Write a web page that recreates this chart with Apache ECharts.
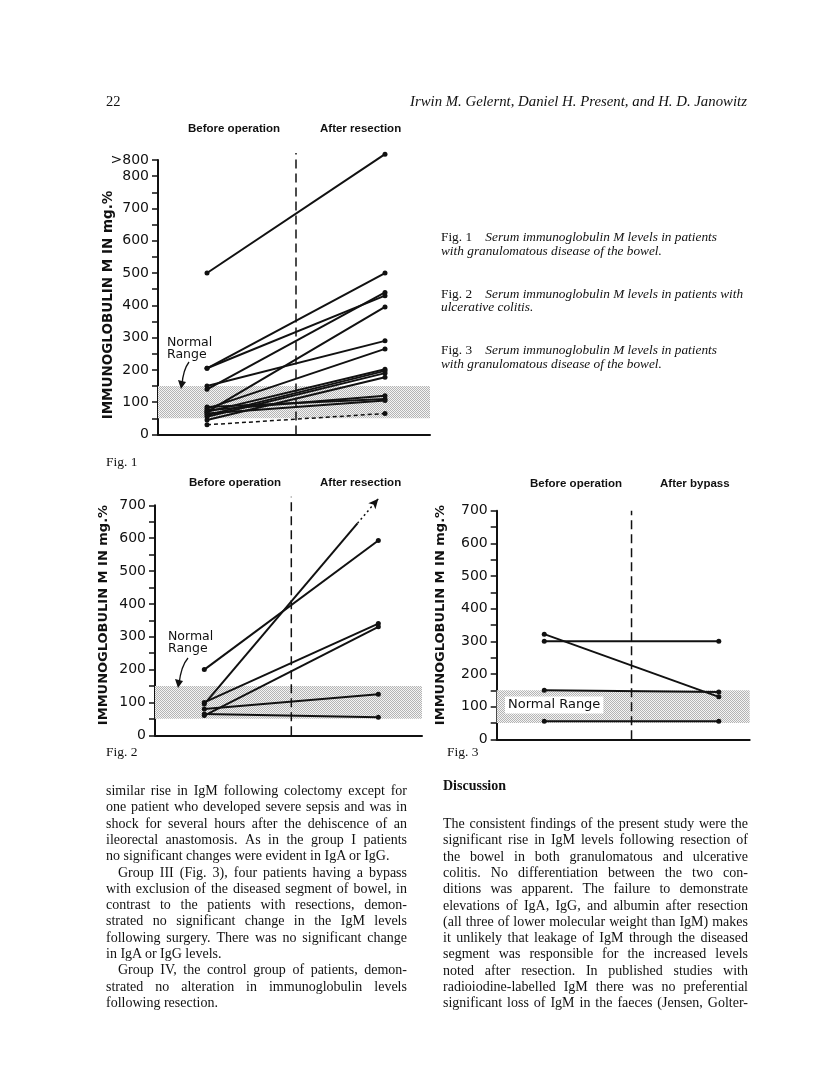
<!DOCTYPE html>
<html>
<head>
<meta charset="utf-8">
<script src="https://cdn.jsdelivr.net/npm/echarts@6/dist/echarts.min.js"></script>
<style>
  html, body { margin:0; padding:0; background:#fff; }
  #page { position:relative; width:816px; height:1075px; overflow:hidden; }
  #c { position:absolute; left:0; top:0; width:816px; height:1075px; }
  .t { position:absolute; font-family:"Liberation Serif", "Times New Roman", serif; color:#111; white-space:nowrap; }
  .ln { position:absolute; font-family:"Liberation Serif", serif; font-size:14px; line-height:16px; height:16px; color:#111; white-space:nowrap; }
  .jl { display:flex; justify-content:space-between; }
  .cap i { font-style:italic; }
</style>
</head>
<body>
<div id="page">
  <div id="c"></div>
  <div id="txt"></div>
</div>
<script>
// ---------------- DATA ----------------
// x positions: 1 = "Before operation", 2 = "After resection/bypass"
const phases = [1, 2];

// Fig. 1 – granulomatous disease, before vs after resection (mg %)
const fig1Before = [500, 205, 205, 150, 140, 70, 80, 70, 60, 55, 45, 75, 85, 65];
const fig1After  = [868, 500, 430, 290, 440, 395, 265, 202, 197, 190, 177, 120, 110, 105];
const fig1DottedBefore = [30];
const fig1DottedAfter  = [65];
const fig1TickValues = [0, 100, 200, 300, 400, 500, 600, 700, 800, 850];
const fig1TickLabels = ['0', '100', '200', '300', '400', '500', '600', '700', '800', '>800'];

// Fig. 2 – ulcerative colitis
const fig2Before = [200, 100, 60, 80, 65];
const fig2After  = [593, 340, 330, 125, 55];
const fig2ArrowBefore = [95];
const fig2ArrowAfter  = [720];
const fig2TickValues = [0, 100, 200, 300, 400, 500, 600, 700];

// Fig. 3 – granulomatous disease, bypass
const fig3Before = [300, 322, 150, 55];
const fig3After  = [300, 130, 145, 55];
const fig3TickValues = [0, 100, 200, 300, 400, 500, 600, 700];

// Normal range (mg %)
const normalRange = [50, 150];

// ---------------- STYLE ----------------
const INK = '#111';
const AXF = '"DejaVu Sans", sans-serif';

function stipple() {
  const cv = document.createElement('canvas');
  cv.width = 2; cv.height = 2;
  const g = cv.getContext('2d');
  g.fillStyle = '#f4f4f4'; g.fillRect(0, 0, 2, 2);
  g.fillStyle = '#b4b4b4'; g.fillRect(0, 0, 1, 1); g.fillRect(1, 1, 1, 1);
  return { image: cv, repeat: 'repeat' };
}
const band = stipple();

const grids = [
  { left: 158, top: 160, width: 272, height: 274.5 },
  { left: 155, top: 505.3, width: 267, height: 230 },
  { left: 496.7, top: 510.7, width: 253, height: 228.6 }
];
const xRanges = [[0.7247, 2.2528], [0.7167, 2.251], [0.7275, 2.177]];
const yMax = [850, 700, 700];
const dashTop = [872, 726, 700];
const tickSets = [fig1TickValues, fig2TickValues, fig3TickValues];

function labelFor(gi, v) {
  const idx = tickSets[gi].indexOf(v);
  if (idx < 0) return '';
  return gi === 0 ? fig1TickLabels[idx] : String(v);
}

const xAxis = grids.map((g, i) => ({
  gridIndex: i, type: 'value', min: xRanges[i][0], max: xRanges[i][1],
  axisLine: { show: true, onZero: false, lineStyle: { color: INK, width: 2 } },
  axisTick: { show: false }, axisLabel: { show: false }, splitLine: { show: false }
}));
const yAxis = grids.map((g, i) => ({
  gridIndex: i, type: 'value', min: 0, max: yMax[i], interval: 50,
  axisLine: { show: true, onZero: false, lineStyle: { color: INK, width: 2 } },
  axisTick: { show: true, length: 6, lineStyle: { color: INK, width: 1.5 } },
  axisLabel: { color: INK, fontFamily: AXF, fontSize: 14, margin: 9, formatter: v => labelFor(i, v) },
  splitLine: { show: false }
}));

const series = [];
function pair(gi, b, a, extra) {
  series.push(Object.assign({
    type: 'line', xAxisIndex: gi, yAxisIndex: gi,
    data: [[phases[0], b], [phases[1], a]],
    symbol: 'circle', symbolSize: 5, showSymbol: true,
    lineStyle: { color: INK, width: 2 }, itemStyle: { color: INK },
    clip: false, silent: true, animation: false, z: 4
  }, extra || {}));
}
// bands + dashed separators
grids.forEach((g, gi) => {
  series.push({
    type: 'line', xAxisIndex: gi, yAxisIndex: gi, data: [], silent: true, animation: false, z: 1,
    markArea: { silent: true, itemStyle: { color: band }, data: [[{ yAxis: normalRange[0] }, { yAxis: normalRange[1] }]] }
  });
  series.push({
    type: 'line', xAxisIndex: gi, yAxisIndex: gi,
    data: [[(phases[0] + phases[1]) / 2, 0], [(phases[0] + phases[1]) / 2, dashTop[gi]]],
    symbol: 'none', lineStyle: { color: INK, width: 1.5, type: [9, 5] },
    clip: false, silent: true, animation: false, z: 3
  });
});
fig1Before.forEach((b, i) => pair(0, b, fig1After[i]));
fig1DottedBefore.forEach((b, i) => pair(0, b, fig1DottedAfter[i], { lineStyle: { color: INK, width: 1.5, type: [4, 3] } }));
fig2Before.forEach((b, i) => pair(1, b, fig2After[i]));
fig3Before.forEach((b, i) => pair(2, b, fig3After[i]));

// Fig 2 arrow line (solid, then dotted with arrowhead)
const arrowParts = [];
fig2ArrowBefore.forEach((b, i) => {
  const a = fig2ArrowAfter[i];
  const f = 0.88;
  const kx = phases[0] + f * (phases[1] - phases[0]);
  const ky = b + f * (a - b);
  series.push({
    type: 'line', xAxisIndex: 1, yAxisIndex: 1,
    data: [{ value: [phases[0], b] }, { value: [kx, ky], symbol: 'none' }],
    symbol: 'circle', symbolSize: 5,
    lineStyle: { color: INK, width: 2 }, itemStyle: { color: INK },
    clip: false, silent: true, animation: false, z: 4
  });
  arrowParts.push({ idx: series.length, from: [kx, ky], to: [phases[1], a] });
  series.push({
    type: 'line', xAxisIndex: 1, yAxisIndex: 1,
    data: [{ value: [kx, ky], symbol: 'none' }, { value: [phases[1], a], symbol: 'arrow', symbolSize: [7, 10], symbolRotate: -40 }],
    lineStyle: { color: INK, width: 1.5, type: [2, 3] }, itemStyle: { color: INK },
    clip: false, silent: true, animation: false, z: 4
  });
});

// ---------------- ANNOTATIONS ----------------
const HF = 'bold 11.5px "Liberation Sans", Arial, sans-serif';
function txt(x, y, text, font, extra) {
  return Object.assign({ type: 'text', x, y, silent: true, z: 10,
    style: Object.assign({ text, font, fill: INK, verticalAlign: 'middle' }, (extra && extra.style) || {}) },
    extra ? { rotation: extra.rotation || 0 } : {});
}
const graphic = [
  txt(188, 129, 'Before operation', HF), txt(320, 129, 'After resection', HF),
  txt(189, 483, 'Before operation', HF), txt(320, 483, 'After resection', HF),
  txt(530, 484, 'Before operation', HF), txt(660, 484, 'After bypass', HF),
  txt(108, 305, 'IMMUNOGLOBULIN M IN mg.%', 'bold 13.5px ' + AXF, { rotation: Math.PI / 2, style: { align: 'center' } }),
  txt(104, 615, 'IMMUNOGLOBULIN M IN mg.%', 'bold 13px ' + AXF, { rotation: Math.PI / 2, style: { align: 'center' } }),
  txt(440.5, 615, 'IMMUNOGLOBULIN M IN mg.%', 'bold 13px ' + AXF, { rotation: Math.PI / 2, style: { align: 'center' } }),
  txt(167, 343, 'Normal', '12.5px ' + AXF), txt(167, 355, 'Range', '12.5px ' + AXF),
  txt(168, 637, 'Normal', '12.5px ' + AXF), txt(168, 649, 'Range', '12.5px ' + AXF),
  { type: 'bezierCurve', silent: true, z: 10, shape: { x1: 189, y1: 362, x2: 182, y2: 385, cpx1: 183, cpy1: 370 }, style: { stroke: INK, lineWidth: 1.3, fill: null } },
  { type: 'polygon', silent: true, z: 10, shape: { points: [[178, 380], [186, 382], [181, 389]] }, style: { fill: INK } },
  { type: 'bezierCurve', silent: true, z: 10, shape: { x1: 188, y1: 658, x2: 179, y2: 684, cpx1: 181, cpy1: 666 }, style: { stroke: INK, lineWidth: 1.3, fill: null } },
  { type: 'polygon', silent: true, z: 10, shape: { points: [[175, 679], [183, 681], [178, 688]] }, style: { fill: INK } },
  { type: 'text', x: 505, y: 705, silent: true, z: 10, style: { text: 'Normal Range', font: '13px ' + AXF, fill: INK, verticalAlign: 'middle', backgroundColor: '#fff', padding: [2, 3] } }
];

const chart = echarts.init(document.getElementById('c'), null, { renderer: 'canvas', width: 816, height: 1075 });
chart.setOption({ animation: false, grid: grids, xAxis, yAxis, series, graphic });

// orient arrowheads along their line in pixel space
arrowParts.forEach(p => {
  const p1 = chart.convertToPixel({ gridIndex: 1 }, p.from);
  const p2 = chart.convertToPixel({ gridIndex: 1 }, p.to);
  const ang = Math.atan2(p1[1] - p2[1], p2[0] - p1[0]) * 180 / Math.PI;
  series[p.idx].data[1].symbolRotate = ang - 90;
});
chart.setOption({ series });

// ---------------- PAGE TEXT ----------------
const host = document.getElementById('txt');
function put(html, x, y, size, cls, extraStyle) {
  const d = document.createElement('div');
  d.className = 't ' + (cls || '');
  d.style.left = x + 'px';
  d.style.top = (y - size * 0.6) + 'px';
  d.style.fontSize = size + 'px';
  d.style.lineHeight = (size * 1.2) + 'px';
  if (extraStyle) d.style.cssText += extraStyle;
  d.innerHTML = html;
  host.appendChild(d);
}
put('22', 106, 102, 14.5);
put('<i>Irwin M. Gelernt</i>, <i>Daniel H. Present</i>, <i>and H. D. Janowitz</i>', 410, 102, 14.8);
put('Fig. 1&nbsp;&nbsp;&nbsp; <i>Serum immunoglobulin M levels in patients</i>', 441, 237, 13.3, 'cap');
put('<i>with granulomatous disease of the bowel.</i>', 441, 251, 13.3, 'cap');
put('Fig. 2&nbsp;&nbsp;&nbsp; <i>Serum immunoglobulin M levels in patients with</i>', 441, 294, 13.3, 'cap');
put('<i>ulcerative colitis.</i>', 441, 307, 13.3, 'cap');
put('Fig. 3&nbsp;&nbsp;&nbsp; <i>Serum immunoglobulin M levels in patients</i>', 441, 350, 13.3, 'cap');
put('<i>with granulomatous disease of the bowel.</i>', 441, 364, 13.3, 'cap');
put('Fig. 1', 106, 462, 13.5);
put('Fig. 2', 106, 752, 13.5);
put('Fig. 3', 447, 752, 13.5);
put('<b>Discussion</b>', 443, 786, 14);

const leftLines = [
  ['similar rise in IgM following colectomy except for', 'j'],
  ['one patient who developed severe sepsis and was in', 'j'],
  ['shock for several hours after the dehiscence of an', 'j'],
  ['ileorectal anastomosis. As in the group I patients', 'j'],
  ['no significant changes were evident in IgA or IgG.', 'l'],
  ['Group III (Fig. 3), four patients having a bypass', 'ji'],
  ['with exclusion of the diseased segment of bowel, in', 'j'],
  ['contrast to the patients with resections, demon-', 'j'],
  ['strated no significant change in the IgM levels', 'j'],
  ['following surgery. There was no significant change', 'j'],
  ['in IgA or IgG levels.', 'l'],
  ['Group IV, the control group of patients, demon-', 'ji'],
  ['strated no alteration in immunoglobulin levels', 'j'],
  ['following resection.', 'l']
];
const rightLines = [
  ['The consistent findings of the present study were the', 'j'],
  ['significant rise in IgM levels following resection of', 'j'],
  ['the bowel in both granulomatous and ulcerative', 'j'],
  ['colitis. No differentiation between the two con-', 'j'],
  ['ditions was apparent. The failure to demonstrate', 'j'],
  ['elevations of IgA, IgG, and albumin after resection', 'j'],
  ['(all three of lower molecular weight than IgM) makes', 'j'],
  ['it unlikely that leakage of IgM through the diseased', 'j'],
  ['segment was responsible for the increased levels', 'j'],
  ['noted after resection. In published studies with', 'j'],
  ['radioiodine-labelled IgM there was no preferential', 'j'],
  ['significant loss of IgM in the faeces (Jensen, Golter-', 'j']
];
function column(lines, x, w, y0, dy) {
  lines.forEach((ln, i) => {
    const [text, mode] = ln;
    const d = document.createElement('div');
    const indent = mode === 'ji' ? 12 : 0;
    d.className = 'ln' + (mode.startsWith('j') ? ' jl' : '');
    d.style.left = (x + indent) + 'px';
    d.style.width = (w - indent) + 'px';
    d.style.top = (y0 + i * dy - 8) + 'px';
    if (mode.startsWith('j')) {
      text.split(' ').forEach(wd => { const s = document.createElement('span'); s.textContent = wd; d.appendChild(s); });
    } else {
      d.textContent = text;
    }
    host.appendChild(d);
  });
}
column(leftLines, 106, 301, 791, 16.3);
column(rightLines, 443, 305, 824, 16.3);
</script>
</body>
</html>
